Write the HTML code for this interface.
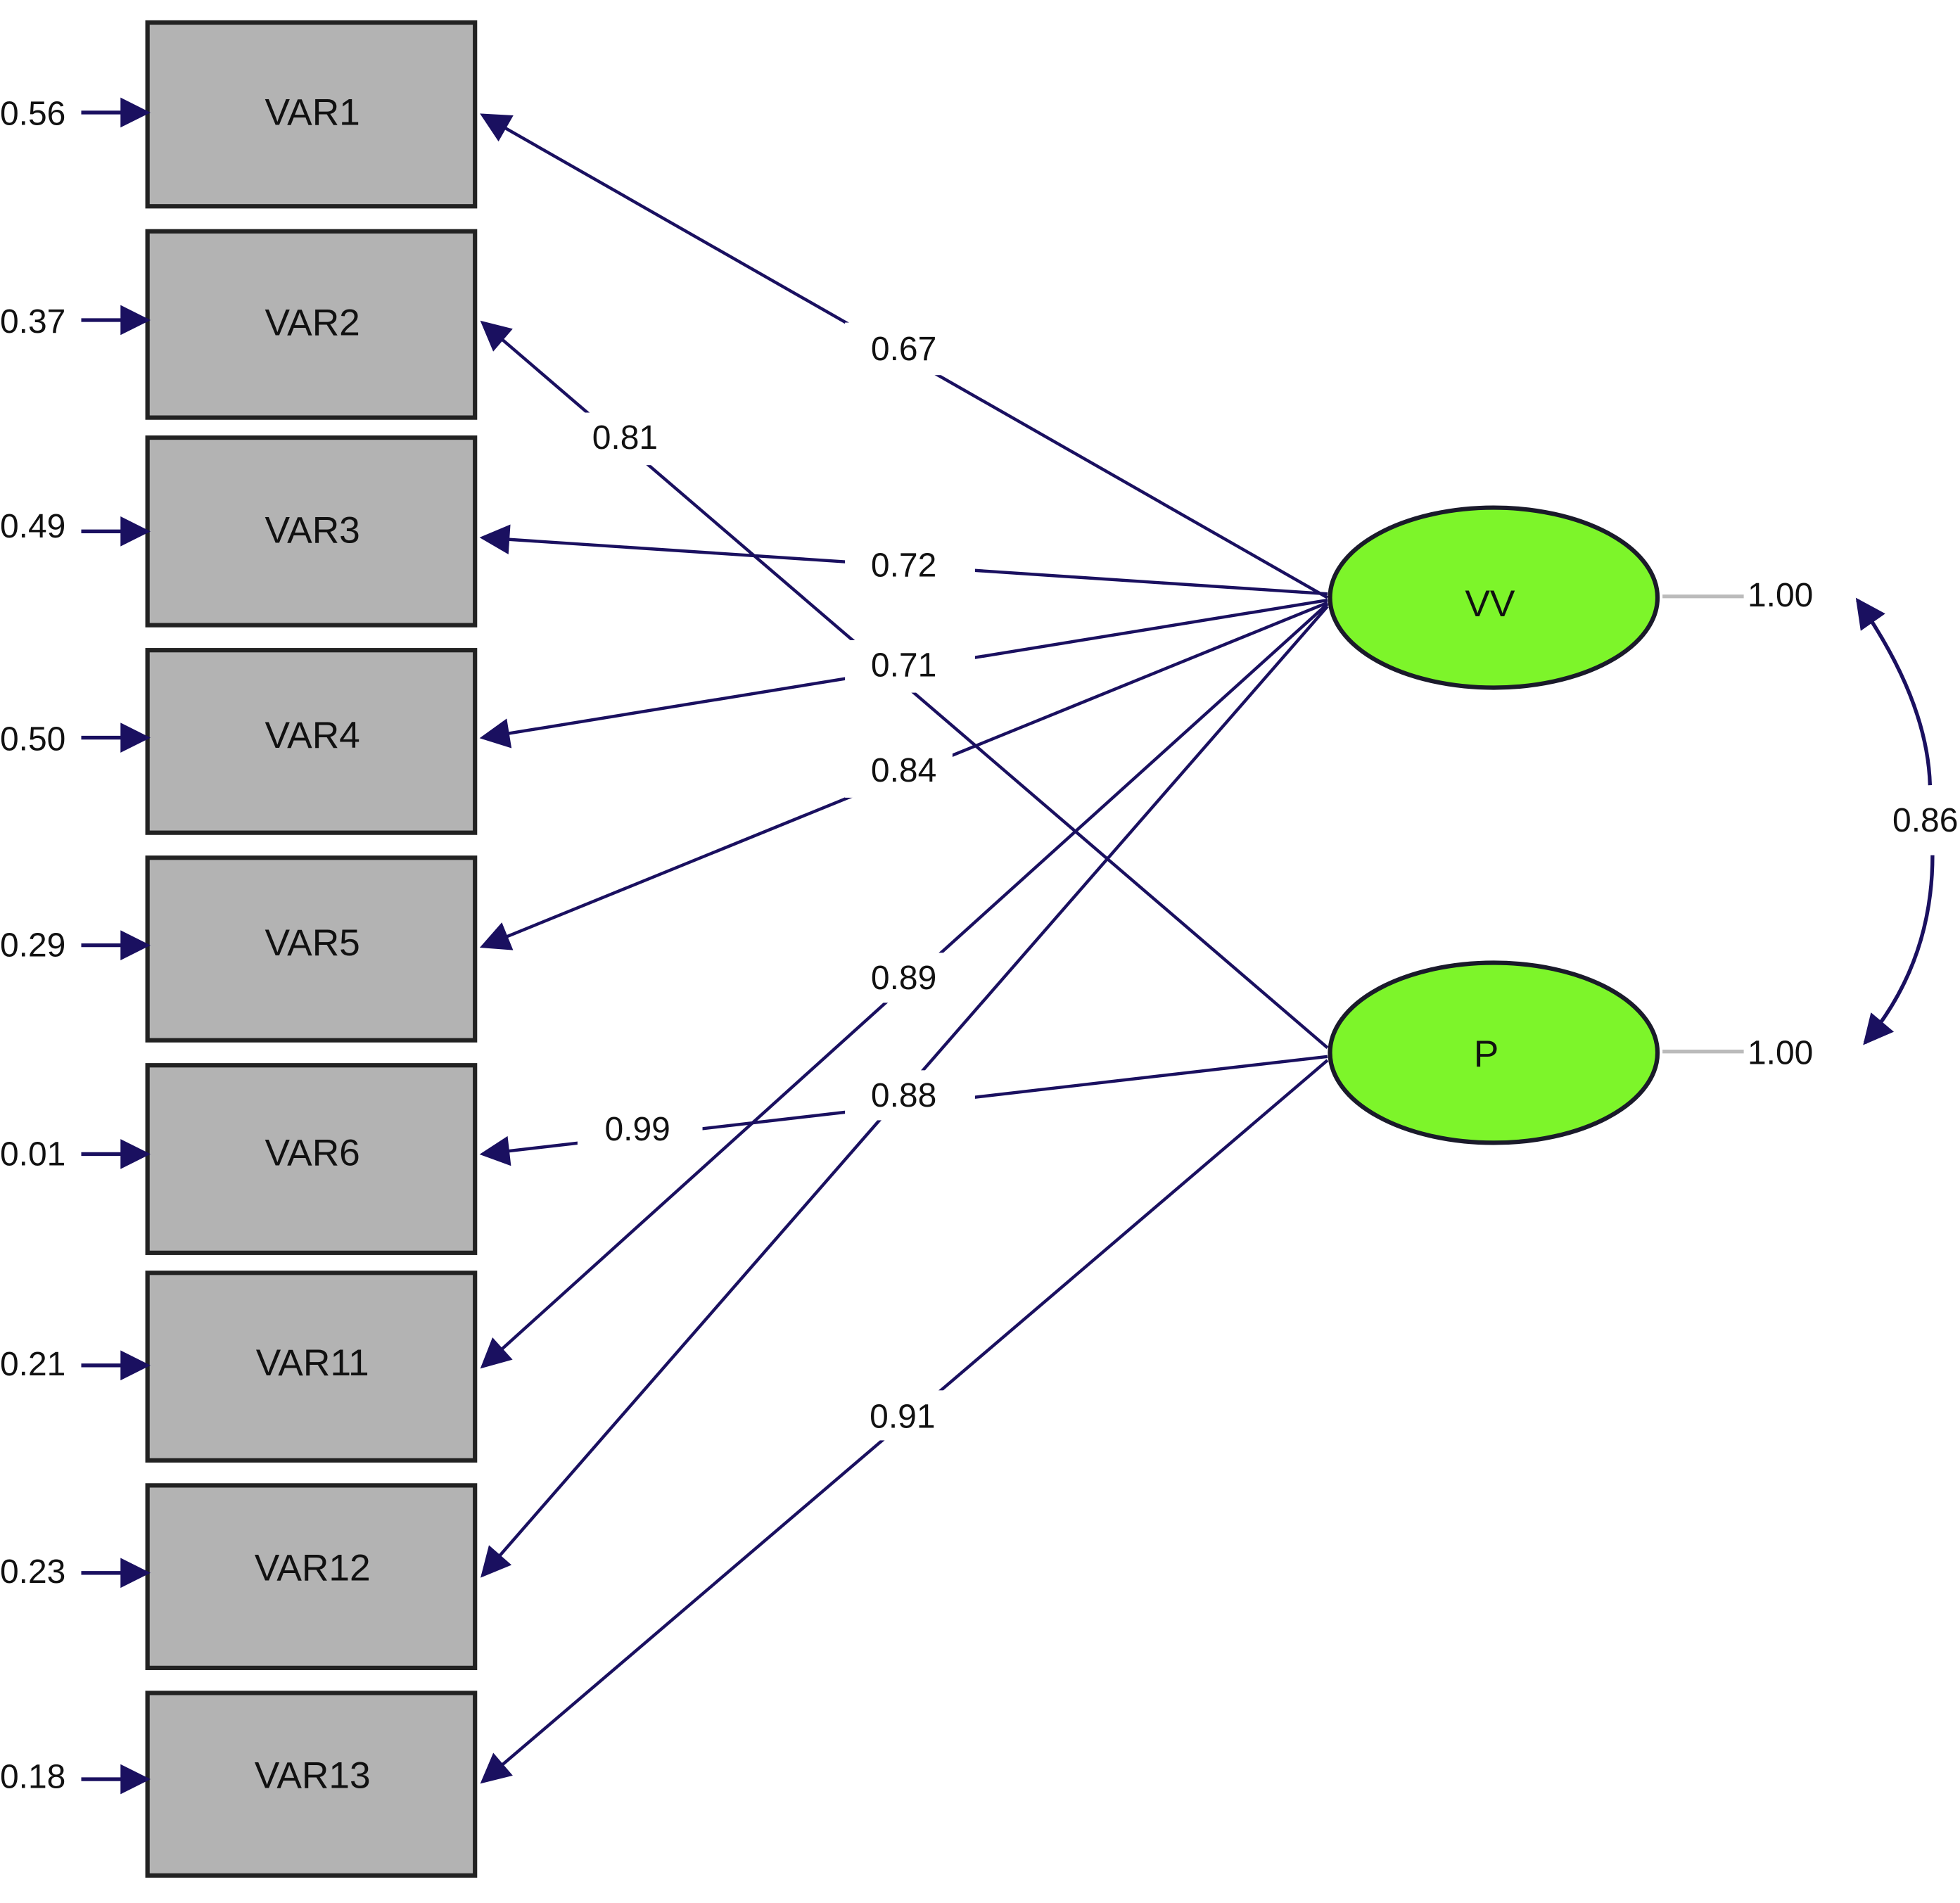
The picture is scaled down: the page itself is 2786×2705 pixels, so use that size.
<!DOCTYPE html>
<html><head><meta charset="utf-8"><style>
html,body{margin:0;padding:0;background:#fff;}
svg{display:block;}
text{font-family:"Liberation Sans",sans-serif;fill:#111;}
</style></head><body>
<svg width="2786" height="2705" viewBox="0 0 1568 1522" preserveAspectRatio="none" xmlns="http://www.w3.org/2000/svg">
<defs>
<marker id="ah2" viewBox="0 0 10 10" refX="9" refY="5" markerWidth="40" markerHeight="24" markerUnits="userSpaceOnUse" orient="auto"><path d="M0,0 L10,5 L0,10 z" fill="#1a1060"/></marker>
</defs>
<g fill="#b3b3b3" stroke="#222" stroke-width="3.5">
<rect x="118" y="18" width="262" height="147"/>
<rect x="118" y="185" width="262" height="149"/>
<rect x="118" y="350" width="262" height="150"/>
<rect x="118" y="520" width="262" height="146"/>
<rect x="118" y="686" width="262" height="146"/>
<rect x="118" y="852" width="262" height="150"/>
<rect x="118" y="1018" width="262" height="150"/>
<rect x="118" y="1188" width="262" height="146"/>
<rect x="118" y="1354" width="262" height="146"/>
</g>
<g font-size="30" text-anchor="middle">
<text x="250" y="100">VAR1</text>
<text x="250" y="268">VAR2</text>
<text x="250" y="434">VAR3</text>
<text x="250" y="598">VAR4</text>
<text x="250" y="764">VAR5</text>
<text x="250" y="932">VAR6</text>
<text x="250" y="1100">VAR11</text>
<text x="250" y="1264">VAR12</text>
<text x="250" y="1430">VAR13</text>
</g>
<g stroke="#1a1060" stroke-width="3" marker-end="url(#ah2)">
<line x1="65" y1="90" x2="118" y2="90"/>
<line x1="65" y1="256" x2="118" y2="256"/>
<line x1="65" y1="425" x2="118" y2="425"/>
<line x1="65" y1="590" x2="118" y2="590"/>
<line x1="65" y1="756" x2="118" y2="756"/>
<line x1="65" y1="923" x2="118" y2="923"/>
<line x1="65" y1="1092" x2="118" y2="1092"/>
<line x1="65" y1="1258" x2="118" y2="1258"/>
<line x1="65" y1="1423" x2="118" y2="1423"/>
</g>
<g font-size="27">
<text x="0" y="100">0.56</text>
<text x="0" y="266">0.37</text>
<text x="0" y="430">0.49</text>
<text x="0" y="600">0.50</text>
<text x="0" y="765">0.29</text>
<text x="0" y="932">0.01</text>
<text x="0" y="1100">0.21</text>
<text x="0" y="1266">0.23</text>
<text x="0" y="1430">0.18</text>
</g>
<g stroke="#1a1060" stroke-width="2.5" marker-end="url(#ah2)">
<line x1="1062" y1="478" x2="386" y2="92"/>
<line x1="1062" y1="838" x2="386" y2="258"/>
<line x1="1062" y1="475" x2="386" y2="430"/>
<line x1="1062" y1="480" x2="386" y2="590"/>
<line x1="1062" y1="482" x2="386" y2="757"/>
<line x1="1062" y1="845" x2="386" y2="923"/>
<line x1="1062" y1="483" x2="386" y2="1093"/>
<line x1="1062" y1="485" x2="386" y2="1260"/>
<line x1="1062" y1="848" x2="386" y2="1425"/>
</g>
<g fill="#fff">
<rect x="676" y="258" width="96" height="42"/>
<rect x="466" y="330" width="66" height="42"/>
<rect x="676" y="432" width="104" height="42"/>
<rect x="676" y="512" width="104" height="42"/>
<rect x="676" y="596" width="86" height="42"/>
<rect x="676" y="762" width="80" height="40"/>
<rect x="676" y="856" width="104" height="40"/>
<rect x="462" y="882" width="100" height="40"/>
<rect x="676" y="1112" width="90" height="40"/>
</g>
<g font-size="27" text-anchor="middle">
<text x="723" y="288">0.67</text>
<text x="500" y="359">0.81</text>
<text x="723" y="461">0.72</text>
<text x="723" y="541">0.71</text>
<text x="723" y="625">0.84</text>
<text x="723" y="791">0.89</text>
<text x="723" y="885">0.88</text>
<text x="510" y="912">0.99</text>
<text x="722" y="1142">0.91</text>
</g>
<ellipse cx="1195" cy="478" rx="131" ry="72" fill="#7df52a" stroke="#1a1a2a" stroke-width="3.5"/>
<ellipse cx="1195" cy="842" rx="131" ry="72" fill="#7df52a" stroke="#1a1a2a" stroke-width="3.5"/>
<text x="1192" y="493" font-size="30" text-anchor="middle">VV</text>
<text x="1189" y="853" font-size="30" text-anchor="middle">P</text>
<g stroke="#bbb" stroke-width="3">
<line x1="1330" y1="477" x2="1395" y2="477"/>
<line x1="1330" y1="841" x2="1395" y2="841"/>
</g>
<g font-size="27">
<text x="1398" y="485">1.00</text>
<text x="1398" y="851">1.00</text>
</g>
<path d="M1544,628 Q1542,560 1486,480" fill="none" stroke="#1a1060" stroke-width="3" marker-end="url(#ah2)"/>
<path d="M1546,684 Q1546,770 1492,834" fill="none" stroke="#1a1060" stroke-width="3" marker-end="url(#ah2)"/>
<text x="1514" y="665" font-size="27">0.86</text>
</svg>
</body></html>
